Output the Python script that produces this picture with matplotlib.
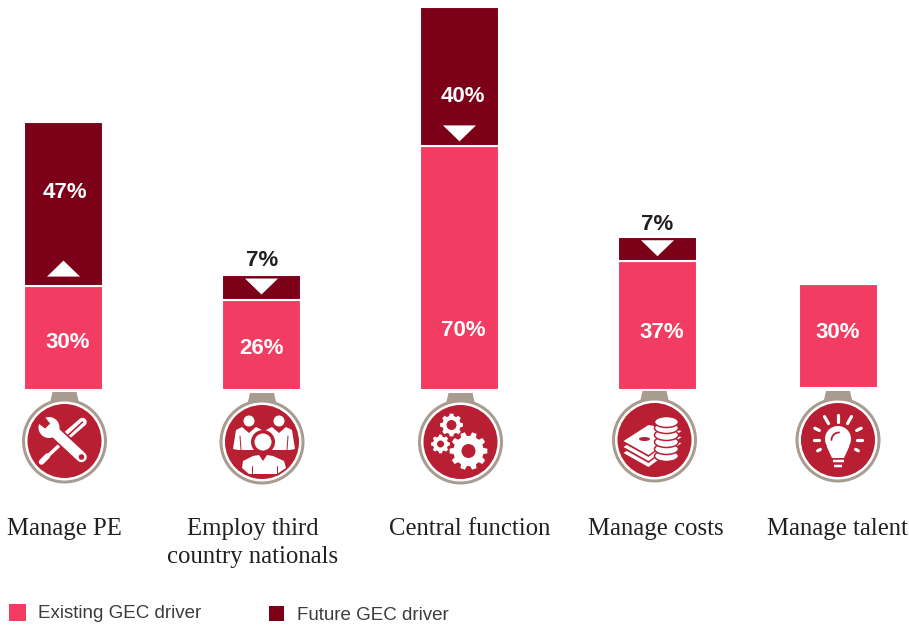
import matplotlib
matplotlib.use("Agg")
import matplotlib.pyplot as plt
import matplotlib.patches as mpatches
import numpy as np

# survey values, percent of respondents
drivers = ["Manage PE", "Employ third\ncountry nationals", "Central function", "Manage costs", "Manage talent"]
existing = [30, 26, 70, 37, 30]
future = [47, 7, 40, 7, 0]
future_arrow = ["up", "down", "down", "down", None]

# layout, in pixels of the 909x625 canvas
bar_x = [63.5, 261.5, 459.5, 657.5, 838]
bar_width = 79
base_px = 390
px_per_pct = 3.48
base_shift = [0, 0, 0, 0, 2]
icon_x = [64.5, 262, 460.5, 654.5, 838]
icon_y = [441, 442, 442, 440, 440]
label_x = [64, 253, 470, 656, 837]
existing_label_pos = [(68, 342), (261, 348), (463, 331), (662, 333), (838, 332)]
future_label_pos = [(64.5, 193), (262, 261), (463, 97), (657, 224)]

pink = "#f23c62"
maroon = "#7b0018"
red = "#b81f32"
taupe = "#a89b90"
ink = "#231f20"
sans = "Liberation Sans"
serif = "Liberation Serif"

fig = plt.figure(figsize=(9.09, 6.25), dpi=100)

# bars go on an axes whose y scale is the percentage
ax = fig.add_axes([0, 1 - base_px / 625, 1, base_px / 625])
ax.set_xlim(0, 909)
ax.set_ylim(0, base_px / px_per_pct)
ax.axis("off")

bottoms = [s / px_per_pct for s in base_shift]
ax.bar(bar_x, existing, bar_width, bottom=bottoms, color=pink, edgecolor="white", linewidth=1.5)
ax.bar(bar_x, future, bar_width, bottom=[e + b for e, b in zip(existing, bottoms)],
       color=maroon, edgecolor="white", linewidth=1.5)

# overlay in pixel coordinates for icons and text
ov = fig.add_axes([0, 0, 1, 1])
ov.set_xlim(0, 909)
ov.set_ylim(625, 0)
ov.axis("off")
ov.patch.set_alpha(0)


def stroke(xs, ys, w, color="white", cap="round", z=5):
    # w is in pixels, linewidth wants points
    ov.plot(xs, ys, color=color, lw=w * 0.72, solid_capstyle=cap, zorder=z)


def disc(x, y, r, color="white", z=5):
    ov.add_patch(mpatches.Circle((x, y), r, fc=color, ec="none", zorder=z))


def poly(pts, color="white", z=5):
    ov.add_patch(mpatches.Polygon(pts, closed=True, fc=color, ec="none", zorder=z))


def medal(x, y):
    poly([(x - 12, y - 49), (x + 12, y - 49), (x + 15, y - 36), (x - 15, y - 36)], taupe, 2)
    disc(x, y, 42.5, taupe, 3)
    disc(x, y, 39.5, "white", 3)
    disc(x, y, 37, red, 4)


def tools_icon(x, y):
    # screwdriver
    stroke([x - 23, x - 6], [y + 21, y + 5], 3.5, z=5)
    stroke([x - 23, x - 17], [y + 21, y + 15], 5.5, z=5)
    stroke([x + 3, x + 18], [y - 6, y - 19], 8.5, z=5)
    stroke([x + 4, x + 18], [y - 6, y - 19], 1.6, red, z=5)
    # spanner with a red casing so it reads as lying on top
    stroke([x - 12, x + 17], [y - 11, y + 16], 14, red, z=5)
    stroke([x - 12, x + 17], [y - 11, y + 16], 10.5, z=5)
    disc(x - 15.5, y - 13.5, 10.5)
    jaw = np.radians(-135)
    a = np.array([x - 15.5, y - 13.5])
    d = np.array([np.cos(jaw), np.sin(jaw)])
    n = np.array([-d[1], d[0]])
    poly([a + n * 3.5 + d * 2, a - n * 3.5 + d * 2, a - n * 5 + d * 13, a + n * 5 + d * 13], red, 6)
    disc(x + 17, y + 16, 2.8, red, 6)


def people_icon(x, y):
    for dx in (-13, 17):
        sx = x + dx
        disc(sx, y - 21, 5.5)
        poly([(sx - 7, y - 15), (sx, y - 9), (sx + 7, y - 15), (sx + 13, y - 12), (sx + 16, y + 7),
              (sx + 11, y + 8), (sx + 9, y + 8), (sx - 9, y + 8), (sx - 11, y + 8), (sx - 16, y + 7),
              (sx - 13, y - 12)])
        stroke([sx - 9, sx - 8], [y - 6, y + 8], 1, red)
        stroke([sx + 9, sx + 8], [y - 6, y + 8], 1, red)
    # front figure, separated from the two behind by a red halo
    disc(x + 1, y, 12, red, 6)
    disc(x + 1, y, 8.5, "white", 7)
    poly([(x - 23, y + 18), (x - 10, y + 10), (x + 12, y + 10), (x + 25, y + 18), (x + 25, y + 22), (x - 23, y + 22)], red, 6)
    poly([(x - 19, y + 19), (x - 9, y + 14), (x - 3, y + 13), (x + 1, y + 19), (x + 5, y + 13),
          (x + 11, y + 14), (x + 22, y + 19), (x + 24, y + 26), (x + 15, y + 32), (x - 13, y + 32), (x - 20, y + 26)], "white", 7)
    stroke([x - 10, x - 10], [y + 24, y + 33], 1, red, z=8)
    stroke([x + 15, x + 15], [y + 24, y + 33], 1, red, z=8)


def gear(x, y, r, hole, teeth):
    pts = []
    step = 2 * np.pi / teeth
    for i in range(teeth):
        t = i * step
        for frac, rad in ((-0.32, 0.8), (-0.2, 1.0), (0.2, 1.0), (0.32, 0.8)):
            pts.append((x + r * rad * np.cos(t + frac * step), y + r * rad * np.sin(t + frac * step)))
    poly(pts)
    disc(x, y, hole, red, 6)


def money_icon(x, y):
    # stack of notes, then the coins over them
    for dy in (12, 6, 0):
        poly([(x - 33, y + 2 + dy), (x - 6, y - 17 + dy), (x + 28, y - 9 + dy), (x - 6, y + 17 + dy)], red, 5)
        poly([(x - 31, y + 1 + dy), (x - 6, y - 15 + dy), (x + 27, y - 9 + dy), (x - 6, y + 15 + dy)], "white", 5)
    ov.add_patch(mpatches.Ellipse((x - 10, y - 1), 11, 4, fc=red, ec="none", zorder=6))
    for dy in (16, 9, 2, -5, -12):
        ov.add_patch(mpatches.Ellipse((x + 12, y + dy), 24, 11, fc="white", ec=red, lw=1.1, zorder=7))
    ov.add_patch(mpatches.Ellipse((x + 12, y - 18), 24, 11, fc="white", ec=red, lw=1.1, zorder=7))


def bulb_icon(x, y):
    disc(x, y - 1, 13)
    poly([(x - 11.5, y + 6), (x + 11.5, y + 6), (x + 6, y + 18), (x - 6, y + 18)])
    stroke([x - 5.5, x + 5.5], [y + 21, y + 21], 2.5, cap="butt")
    stroke([x - 4, x + 4], [y + 26, y + 26], 2.5, cap="butt")
    t = np.linspace(np.pi, 1.5 * np.pi, 12)
    stroke(x + 1 + 7.5 * np.cos(t), y + 7.5 * np.sin(t), 1.8, red, z=6)
    for deg, r0, r1 in ((-90, 18, 25), (-60, 19, 27), (-120, 19, 27), (-27, 21, 26), (-153, 21, 26),
                        (0, 19, 24), (180, 19, 24), (28, 20, 23), (152, 20, 23)):
        c, s = np.cos(np.radians(deg)), np.sin(np.radians(deg))
        stroke([x + r0 * c, x + r1 * c], [y + r0 * s, y + r1 * s], 3.2)


icons = [tools_icon, people_icon, None, money_icon, bulb_icon]
for i in range(len(drivers)):
    medal(icon_x[i], icon_y[i])
    if icons[i] is not None:
        icons[i](icon_x[i], icon_y[i])

# three gears in the middle medal
gear(icon_x[2] + 8, icon_y[2] + 9, 19, 7, 10)
gear(icon_x[2] - 9, icon_y[2] - 17, 11.5, 5, 8)
gear(icon_x[2] - 20, icon_y[2] + 2, 9.5, 3.5, 8)

# arrows marking the expected direction of change
for i, arrow in enumerate(future_arrow):
    if arrow is None:
        continue
    edge = base_px - base_shift[i] - existing[i] * px_per_pct
    if arrow == "up":
        poly([(bar_x[i] - 16.5, edge - 9), (bar_x[i] + 16.5, edge - 9), (bar_x[i], edge - 25)], z=6)
    else:
        poly([(bar_x[i] - 16.5, edge - 21), (bar_x[i] + 16.5, edge - 21), (bar_x[i], edge - 5)], z=6)

# value labels
for (x, y), v in zip(existing_label_pos, existing):
    ov.text(x, y, f"{v}%", color="white", family=sans, weight="bold", fontsize=16, ha="center", va="center")
for (x, y), v in zip(future_label_pos, future):
    col = "white" if v > 10 else ink
    ov.text(x, y, f"{v}%", color=col, family=sans, weight="bold", fontsize=16, ha="center", va="center")

# driver names
for x, name in zip(label_x, drivers):
    ov.text(x, 518, name, color=ink, family=serif, fontsize=17.8, ha="center", va="top", linespacing=1.36)

# legend
ov.add_patch(mpatches.Rectangle((9, 604), 17, 17, fc=pink, ec="none"))
ov.text(38, 614, "Existing GEC driver", color="#3c3c3c", family=sans, fontsize=13.5, va="center")
ov.add_patch(mpatches.Rectangle((269, 606), 15, 15, fc=maroon, ec="none"))
ov.text(297, 616, "Future GEC driver", color="#3c3c3c", family=sans, fontsize=13.5, va="center")

fig.savefig("out.png", dpi=100)
